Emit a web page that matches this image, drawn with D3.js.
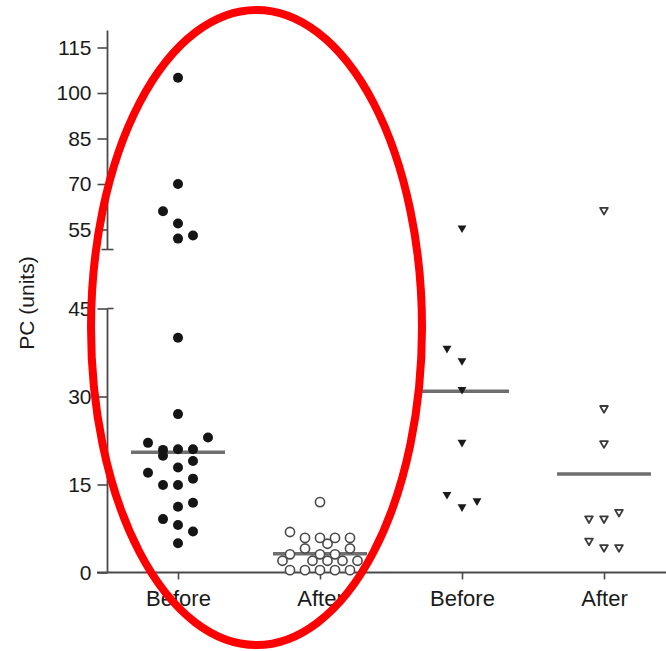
<!DOCTYPE html>
<html><head><meta charset="utf-8">
<script src="https://cdn.jsdelivr.net/npm/d3@7"></script>
<style>body{margin:0;background:#fff}svg{display:block}</style>
</head><body>
<svg id="chart" width="666" height="651"></svg>
<script>
// ---------- data ----------
const categories = ["Before", "After", "Before", "After"];
const categoryIds = ["g1b", "g1a", "g2b", "g2a"];
const lowTicks = [0, 15, 30, 45];
const highTicks = [55, 70, 85, 100, 115];
const axisTitle = "PC (units)";

// group 1, before (filled circles)
const g1BeforeValues = [105, 70, 61, 57, 52, 53, 40, 27, 22.1, 23, 20.9, 19.9, 21, 21, 19, 17.9, 17, 14.9, 14.9, 16, 11.9, 11.2, 9.1, 8.1, 7, 5];
const g1BeforeSlots  = [0,   0, -1,  0,  0,  1,  0,  0, -2,   2, -1,   -1,   0,  1,  1,  0,   -2, -1,    0,   1,  1,    0,   -1,   0,  1, 0];
// group 1, after (open circles)
const g1AfterValues = [12, 6.9, 5.9, 5.9, 5.9, 5.9, 4.9, 4.1, 4.1, 3.1, 3.1, 3.1, 2.0, 2.0, 2.0, 2.0, 2.0, 0.4, 0.4, 0.4, 0.4, 0.4];
const g1AfterSlots  = [0,  -2,  -1,  0,   1,   2,   0.5, -1,  2,  -2,   0,   1,  -2.5, -0.5, 0.5, 1.5, 2.5, -2,  -1,  0,   1,   2];
// group 2, before (filled triangles)
const g2BeforeValues = [55.5, 38.2, 36.1, 31.2, 22.2, 13.3, 11.2, 12.2];
const g2BeforeSlots  = [0,   -1,    0,    0,    0,   -1,    0,    1];
// group 2, after (open triangles)
const g2AfterValues = [61.4, 28, 22, 9.2, 9.2, 10.3, 5.4, 4.3, 4.3];
const g2AfterSlots  = [0,    0,  0, -1,   0,   1,   -1,   0,   1];

const medians = [20.5, 3.2, 30.9, 16.8];

// ---------- layout ----------
const svg = d3.select("#chart");
const font = "'Liberation Sans', Arial, Helvetica, sans-serif";
const axisX = 107.5;
const axisColor = "#4a4a4a";
const textColor = "#1a1a1a";

const x = d3.scalePoint().domain(categoryIds).range([178, 604]);
const yLow = d3.scaleLinear().domain([0, 45]).range([572.5, 308.5]);
const yHigh = d3.scaleLinear().domain([55, 115]).range([229.5, 47.5]);
const yv = v => (v <= 47 ? yLow(v) : yHigh(v));
const slotPx = 15;

// ---------- axes ----------
const gLow = svg.append("g").attr("transform", `translate(${axisX},0)`)
  .call(d3.axisLeft(yLow).tickValues(lowTicks).tickSize(10).tickPadding(6).tickSizeOuter(0));
const gHigh = svg.append("g").attr("transform", `translate(${axisX},0)`)
  .call(d3.axisLeft(yHigh).tickValues(highTicks).tickSize(10).tickPadding(6).tickSizeOuter(0));
[gLow, gHigh].forEach(g => {
  g.select(".domain").remove();
  g.selectAll(".tick line").attr("stroke", axisColor).attr("stroke-width", 1.6);
  g.selectAll(".tick text").attr("fill", textColor).style("font-family", font).style("font-size", "21px");
});
// axis segments with caps at the break
svg.append("line").attr("x1", axisX).attr("x2", axisX)
  .attr("y1", yHigh(120.6)).attr("y2", yHigh(48.4))
  .attr("stroke", axisColor).attr("stroke-width", 1.8);
svg.append("line").attr("x1", axisX - 6).attr("x2", axisX + 6)
  .attr("y1", yHigh(48.4)).attr("y2", yHigh(48.4))
  .attr("stroke", axisColor).attr("stroke-width", 1.6);
svg.append("line").attr("x1", axisX).attr("x2", axisX)
  .attr("y1", yLow(45)).attr("y2", yLow(0))
  .attr("stroke", axisColor).attr("stroke-width", 1.8);
svg.append("line").attr("x1", axisX).attr("x2", axisX + 6)
  .attr("y1", yLow(45)).attr("y2", yLow(45))
  .attr("stroke", axisColor).attr("stroke-width", 1.6);

// x axis
const gx = svg.append("g").attr("transform", `translate(0,${yLow(0)})`)
  .call(d3.axisBottom(x).tickSize(7).tickPadding(11).tickSizeOuter(0)
    .tickFormat((d, i) => categories[i]));
gx.select(".domain").remove();
gx.selectAll(".tick line").attr("stroke", axisColor).attr("stroke-width", 1.6);
gx.selectAll(".tick text").attr("fill", textColor).style("font-family", font).style("font-size", "22px");
svg.append("line").attr("x1", 97).attr("x2", 666)
  .attr("y1", yLow(0)).attr("y2", yLow(0))
  .attr("stroke", axisColor).attr("stroke-width", 1.8);

// axis title
svg.append("text")
  .attr("transform", `translate(34,303) rotate(-90)`)
  .attr("text-anchor", "middle")
  .attr("fill", textColor)
  .style("font-family", font).style("font-size", "21px")
  .text(axisTitle);

// ---------- median lines ----------
svg.append("g").selectAll("line").data(medians).join("line")
  .attr("x1", (d, i) => x(categoryIds[i]) - 47)
  .attr("x2", (d, i) => x(categoryIds[i]) + 47)
  .attr("y1", d => yv(d)).attr("y2", d => yv(d))
  .attr("stroke", "#6f6f6f").attr("stroke-width", 3.5);

// ---------- points ----------
const pts = (vals, slots, id) => vals.map((v, i) => ({v, cx: x(id) + slots[i] * slotPx}));

svg.append("g").selectAll("circle").data(pts(g1BeforeValues, g1BeforeSlots, "g1b")).join("circle")
  .attr("cx", d => d.cx).attr("cy", d => yv(d.v)).attr("r", 5)
  .attr("fill", "#151515");

svg.append("g").selectAll("circle").data(pts(g1AfterValues, g1AfterSlots, "g1a")).join("circle")
  .attr("cx", d => d.cx).attr("cy", d => yv(d.v)).attr("r", 4.6)
  .attr("fill", "#fff").attr("stroke", "#4a4a4a").attr("stroke-width", 1.6);

const triFilled = d3.symbol().type(d3.symbolTriangle).size(34);
const triOpen = d3.symbol().type(d3.symbolTriangle).size(26);

svg.append("g").selectAll("path").data(pts(g2BeforeValues, g2BeforeSlots, "g2b")).join("path")
  .attr("d", triFilled)
  .attr("transform", d => `translate(${d.cx},${yv(d.v)}) rotate(180)`)
  .attr("fill", "#1a1a1a");

svg.append("g").selectAll("path").data(pts(g2AfterValues, g2AfterSlots, "g2a")).join("path")
  .attr("d", triOpen)
  .attr("transform", d => `translate(${d.cx},${yv(d.v)}) rotate(180)`)
  .attr("fill", "#fff").attr("stroke", "#3a3a3a").attr("stroke-width", 1.8)
  .attr("stroke-linejoin", "round");

// ---------- highlight ellipse ----------
svg.append("ellipse")
  .attr("cx", 256.5).attr("cy", 327.5).attr("rx", 165.5).attr("ry", 317.5)
  .attr("fill", "none").attr("stroke", "#ff0000").attr("stroke-width", 8);
</script>
</body></html>
